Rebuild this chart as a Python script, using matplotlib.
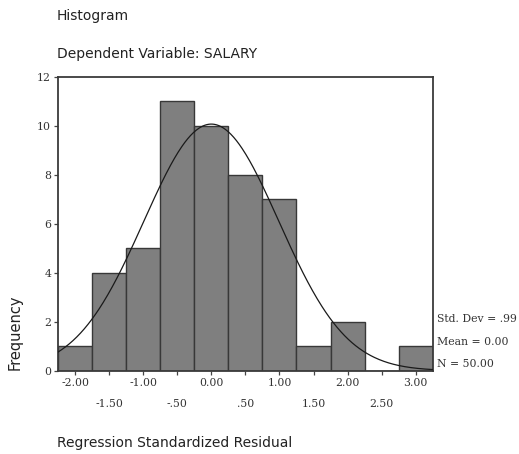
import numpy as np
import matplotlib
matplotlib.use("Agg")
import matplotlib.pyplot as plt

# Histogram of standardized residuals (bin width 0.5)
bin_edges = [-2.25, -1.75, -1.25, -0.75, -0.25, 0.25, 0.75, 1.25, 1.75, 2.25, 2.75, 3.25]
counts = [1, 4, 5, 11, 10, 8, 7, 1, 2, 0, 1]
std_dev = 0.99
mean = 0.00
n_obs = 50

upper_ticks = [-2.0, -1.0, 0.0, 1.0, 2.0, 3.0]
upper_labels = ["-2.00", "-1.00", "0.00", "1.00", "2.00", "3.00"]
lower_ticks = [-1.5, -0.5, 0.5, 1.5, 2.5]
lower_labels = ["-1.50", "-.50", ".50", "1.50", "2.50"]
y_ticks = [0, 2, 4, 6, 8, 10, 12]

fig = plt.figure(figsize=(5.19, 4.54), dpi=100)
ax = fig.add_axes([0.1118, 0.1835, 0.722, 0.647])

edges = np.array(bin_edges)
widths = np.diff(edges)
ax.bar(edges[:-1], counts, width=widths, align="edge",
       color="#7f7f7f", edgecolor="#383838", linewidth=1.0, zorder=2)

# Normal curve scaled to counts
xs = np.linspace(edges[0], edges[-1], 400)
bw = widths[0]
pdf = np.exp(-0.5 * ((xs - mean) / std_dev) ** 2) / (std_dev * np.sqrt(2 * np.pi))
ax.plot(xs, n_obs * bw * pdf, color="#1a1a1a", linewidth=0.9, zorder=3)

ax.set_xlim(edges[0], edges[-1])
ax.set_ylim(0, 12)

tick_font = dict(family="DejaVu Serif", size=7.8, color="#333333")
ax.set_yticks(y_ticks)
ax.set_yticklabels([str(v) for v in y_ticks], **tick_font)
ax.set_xticks(sorted(upper_ticks + lower_ticks))
ax.set_xticklabels([])
ax.tick_params(axis="both", direction="out", length=3, width=0.9, color="#444444", pad=2)

for s in ax.spines.values():
    s.set_color("#3a3a3a")
    s.set_linewidth(1.3)

# Two staggered rows of x tick labels
for t, lab in zip(upper_ticks, upper_labels):
    ax.annotate(lab, xy=(t, 0), xycoords=("data", "axes fraction"),
                xytext=(0, -9), textcoords="offset points",
                ha="center", va="center", **tick_font)
for t, lab in zip(lower_ticks, lower_labels):
    ax.annotate(lab, xy=(t, 0), xycoords=("data", "axes fraction"),
                xytext=(0, -24), textcoords="offset points",
                ha="center", va="center", **tick_font)

title_font = dict(family="DejaVu Sans", size=10, color="#222222")
fig.text(57 / 519, 1 - 16 / 454, "Histogram", ha="left", va="center", **title_font)
fig.text(57 / 519, 1 - 54 / 454, "Dependent Variable: SALARY", ha="left", va="center", **title_font)
fig.text(57 / 519, 1 - 443 / 454, "Regression Standardized Residual", ha="left", va="center", **title_font)
fig.text(15 / 519, 1 - 332 / 454, "Frequency", rotation=90, ha="center", va="center",
         family="DejaVu Sans", size=10.5, color="#222222")

stat_font = dict(family="DejaVu Serif", size=7.8, color="#333333")
fig.text(437 / 519, 1 - 319 / 454, f"Std. Dev = {std_dev:.2f}".replace("0.", "."), ha="left", va="center", **stat_font)
fig.text(437 / 519, 1 - 342 / 454, f"Mean = {mean:.2f}", ha="left", va="center", **stat_font)
fig.text(437 / 519, 1 - 364 / 454, f"N = {n_obs:.2f}", ha="left", va="center", **stat_font)

fig.savefig("out.png", dpi=100)
